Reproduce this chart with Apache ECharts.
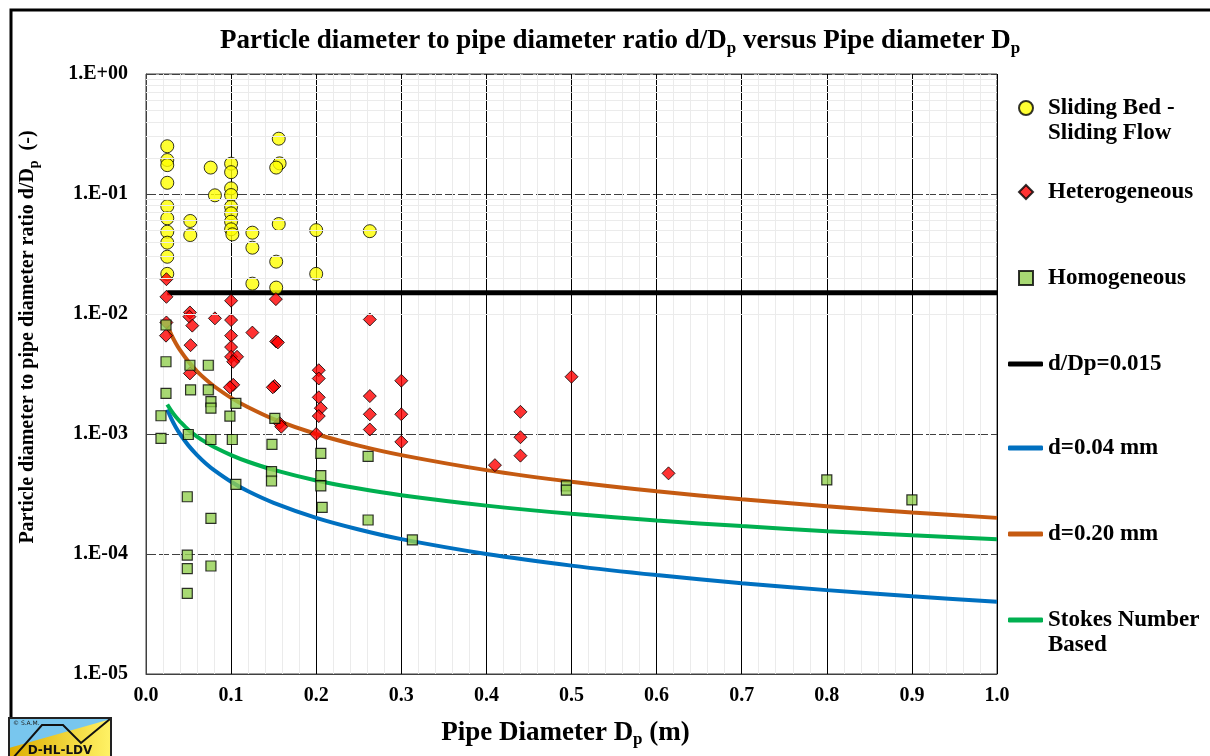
<!DOCTYPE html>
<html>
<head>
<meta charset="utf-8">
<script src="https://cdn.jsdelivr.net/npm/echarts@6/dist/echarts.min.js"></script>
<style>
  html, body { margin: 0; padding: 0; background: #fff; }
  #chart { width: 1210px; height: 756px; }
</style>
</head>
<body>
<div id="chart"></div>
<script>
// scatter data [Dp (m), d/Dp (-)]
const slidingBed = [
    [0.025, 0.25], [0.025, 0.192], [0.025, 0.174], [0.025, 0.124], [0.025, 0.079],
    [0.025, 0.0627], [0.025, 0.0485], [0.025, 0.0393], [0.025, 0.030], [0.025, 0.0216],
    [0.052, 0.0596], [0.052, 0.0455], [0.076, 0.166], [0.081, 0.0975],
    [0.1, 0.179], [0.1, 0.152], [0.1, 0.1115], [0.1, 0.098], [0.1, 0.0784],
    [0.1, 0.069], [0.1, 0.0588], [0.1, 0.0508], [0.1015, 0.0461],
    [0.125, 0.0476], [0.125, 0.0357], [0.125, 0.0179],
    [0.156, 0.289], [0.157, 0.180], [0.153, 0.166], [0.156, 0.0562], [0.153, 0.0273], [0.153, 0.0166],
    [0.2, 0.050], [0.2, 0.0216], [0.263, 0.049]
];
const heterogeneous = [
    [0.024, 0.0195], [0.024, 0.0139], [0.1, 0.0129], [0.1526, 0.0133],
    [0.0516, 0.0103], [0.051, 0.0095], [0.0544, 0.008], [0.081, 0.0092], [0.1, 0.0089], [0.263, 0.009],
    [0.024, 0.0085], [0.0235, 0.0066], [0.125, 0.007], [0.1, 0.0066], [0.0524, 0.0055], [0.1, 0.0053],
    [0.153, 0.0059], [0.155, 0.0058], [0.1, 0.0044], [0.107, 0.0044], [0.1025, 0.004], [0.0516, 0.0032],
    [0.203, 0.0034], [0.203, 0.0029], [0.1025, 0.00257], [0.0986, 0.00245], [0.151, 0.00251], [0.149, 0.00245],
    [0.203, 0.00202], [0.2054, 0.00164], [0.203, 0.00141], [0.263, 0.00207], [0.263, 0.00146], [0.263, 0.00109],
    [0.3, 0.00278], [0.3, 0.00146], [0.3, 0.00086], [0.157, 0.00123], [0.159, 0.00115], [0.2, 0.001],
    [0.41, 0.00055], [0.44, 0.00153], [0.44, 0.00094], [0.44, 0.00066], [0.5, 0.003], [0.614, 0.00047]
];
const homogeneous = [
    [0.0235, 0.0081], [0.0235, 0.004], [0.0516, 0.00374], [0.0732, 0.00374], [0.0235, 0.00218],
    [0.0524, 0.00233], [0.0732, 0.00233], [0.0763, 0.00186], [0.0763, 0.00164], [0.1056, 0.0018],
    [0.0176, 0.00142], [0.0986, 0.00141], [0.1514, 0.00135], [0.0176, 0.00092], [0.0497, 0.00099],
    [0.0763, 0.0009], [0.1014, 0.0009], [0.148, 0.00082], [0.2054, 0.00069], [0.261, 0.00065],
    [0.1475, 0.000486], [0.1475, 0.000406], [0.2054, 0.00045], [0.2054, 0.00037], [0.1056, 0.00038],
    [0.0485, 0.0003], [0.207, 0.000245], [0.0763, 0.000198], [0.261, 0.000192], [0.0485, 0.000098],
    [0.0485, 0.0000755], [0.0763, 0.0000794], [0.0485, 0.000047], [0.313, 0.000131],
    [0.494, 0.00037], [0.494, 0.00034], [0.8, 0.000414], [0.9, 0.000282]
];

// curves
const curveDp = [0.025, 0.03, 0.035, 0.04, 0.05, 0.06, 0.07, 0.08, 0.1, 0.12, 0.15, 0.2,
    0.25, 0.3, 0.4, 0.5, 0.6, 0.7, 0.8, 0.9, 1.0];
const d004 = [0.0016, 0.00133, 0.00114, 0.001, 0.0008, 0.000667, 0.000571, 0.0005, 0.0004, 0.000333,
    0.000267, 0.0002, 0.00016, 0.000133, 0.0001, 0.00008, 0.0000667, 0.0000571, 0.00005, 0.0000444, 0.00004];
const d020 = [0.008, 0.00667, 0.00571, 0.005, 0.004, 0.00333, 0.00286, 0.0025, 0.002, 0.00167,
    0.00133, 0.001, 0.0008, 0.000667, 0.0005, 0.0004, 0.000333, 0.000286, 0.00025, 0.000222, 0.0002];
const stokes = [0.00176, 0.00155, 0.00139, 0.00127, 0.00108, 0.000953, 0.000855, 0.000779, 0.000667, 0.000587,
    0.000502, 0.00041, 0.000351, 0.000309, 0.000253, 0.000216, 0.00019, 0.000171, 0.000155, 0.000143, 0.000133];
const limitDp = [0.025, 1.0];
const limitRatio = [0.015, 0.015];

const names = ['Sliding Bed - Sliding Flow', 'Heterogeneous', 'Homogeneous',
    'd/Dp=0.015', 'd=0.04 mm', 'd=0.20 mm', 'Stokes Number Based'];
const legendLines = {
    'Sliding Bed - Sliding Flow': ['Sliding Bed -', 'Sliding Flow'],
    'Stokes Number Based': ['Stokes Number', 'Based']
};

const FONT = '"Liberation Serif", "Times New Roman", serif';
const legendText = { fontFamily: FONT, fontWeight: 'bold', fontSize: 23, color: '#000', lineHeight: 25 };

function pairs(xs, ys) {
    return xs.map(function (x, i) { return [x, ys[i]]; });
}

// light log grid lines at 2..9 of each decade
const minorLog = [];
for (let e = -5; e < 0; e++) {
    for (let m = 2; m <= 9; m++) {
        minorLog.push({ yAxis: m * Math.pow(10, e) });
    }
}

// one legend block per entry, placed like the Excel legend
function legendAt(name, iconY, isLine, icon) {
    const two = legendLines[name];
    const spacer = isLine ? '' : '{s|}';
    return {
        data: [{ name: name, icon: icon }],
        left: isLine ? 1008 : 1018,
        top: two ? iconY - 37.5 : iconY - 12.5,
        padding: 0,
        itemWidth: isLine ? 35 : 14,
        itemHeight: isLine ? 5 : 14,
        selectedMode: false,
        formatter: function (n) {
            if (two) return spacer + ' \n' + spacer + two[0] + '\n' + spacer + two[1];
            return spacer + n;
        },
        textStyle: Object.assign({ rich: { s: { width: 10 } } }, legendText)
    };
}

const chart = echarts.init(document.getElementById('chart'));

chart.setOption({
    animation: false,
    backgroundColor: '#fff',
    title: {
        text: 'Particle diameter to pipe diameter ratio d/D{p|p} versus Pipe diameter D{p|p}',
        left: 220,
        top: 26,
        padding: 0,
        textStyle: {
            fontFamily: FONT, fontWeight: 'bold', fontSize: 27, color: '#000',
            rich: {
                p: { fontFamily: FONT, fontWeight: 'bold', fontSize: 17, color: '#000', padding: [14, 0, 0, 0] }
            }
        }
    },
    legend: [
        legendAt(names[0], 108, false, 'circle'),
        legendAt(names[1], 192, false, 'diamond'),
        legendAt(names[2], 278, false, 'rect'),
        legendAt(names[3], 364, true, 'roundRect'),
        legendAt(names[4], 448, true, 'roundRect'),
        legendAt(names[5], 534, true, 'roundRect'),
        legendAt(names[6], 620, true, 'roundRect')
    ],
    grid: {
        left: 146, right: 213, top: 74, bottom: 82,
        show: true, borderColor: '#404040', borderWidth: 1
    },
    xAxis: {
        type: 'value',
        min: 0, max: 1, interval: 0.1,
        name: 'Pipe Diameter D{p|p} (m)',
        nameLocation: 'middle',
        nameGap: 44,
        nameTextStyle: {
            fontFamily: FONT, fontWeight: 'bold', fontSize: 27, color: '#000',
            padding: [0, 12, 0, 0],
            rich: { p: { fontFamily: FONT, fontWeight: 'bold', fontSize: 17, color: '#000', padding: [13, 0, 0, 0] } }
        },
        axisLine: { lineStyle: { color: '#404040' } },
        axisTick: { show: false },
        minorTick: { show: true, splitNumber: 5, length: 0 },
        axisLabel: {
            fontFamily: FONT, fontWeight: 'bold', fontSize: 20, color: '#000', margin: 12,
            formatter: function (v) { return v.toFixed(1); }
        },
        splitLine: { show: true, lineStyle: { color: '#000', width: 1 } },
        minorSplitLine: { show: true, lineStyle: { color: '#ebebeb', width: 1 } }
    },
    yAxis: {
        type: 'log',
        logBase: 10,
        min: 1e-5, max: 1,
        axisLine: { show: true, lineStyle: { color: '#404040' } },
        axisTick: { show: false },
        axisLabel: {
            fontFamily: FONT, fontWeight: 'bold', fontSize: 20, color: '#000', margin: 18,
            formatter: function (v) {
                const e = Math.round(Math.log10(v));
                const a = Math.abs(e);
                return '1.E' + (e < 0 ? '-' : '+') + (a < 10 ? '0' : '') + a;
            }
        },
        splitLine: { show: true, lineStyle: { color: '#404040', width: 1, type: [10, 3] } }
    },
    graphic: [
        {
            type: 'rect', z: -10, silent: true,
            shape: { x: 11, y: 10, width: 1260, height: 800 },
            style: { fill: 'none', stroke: '#000', lineWidth: 3 }
        },
        {
            type: 'text', silent: true,
            x: 28, y: 337, rotation: Math.PI / 2,
            style: {
                text: 'Particle diameter to pipe diameter ratio d/D{p|p}  (-)',
                fontFamily: FONT, fontWeight: 'bold', fontSize: 20, fill: '#000',
                align: 'center', verticalAlign: 'middle',
                rich: { p: { fontFamily: FONT, fontWeight: 'bold', fontSize: 14, fill: '#000', padding: [12, 0, 0, 0] } }
            }
        },
        {
            type: 'group', x: 9, y: 718, z: 100, silent: true,
            children: [
                {
                    type: 'rect', shape: { x: 0, y: 0, width: 102, height: 40 },
                    style: {
                        fill: new echarts.graphic.LinearGradient(0, 0, 1, 0, [
                            { offset: 0, color: '#DDAE00' }, { offset: 1, color: '#FFF266' }
                        ])
                    }
                },
                {
                    type: 'polygon', shape: { points: [[0, 0], [102, 0], [102, 1], [0, 30]] },
                    style: { fill: '#78C6EE' }
                },
                {
                    type: 'polyline', shape: { points: [[4, 40], [33, 7], [54, 7], [72, 25], [101, 1]] },
                    style: { stroke: '#111', lineWidth: 2, fill: 'none' }
                },
                {
                    type: 'text', x: 4, y: 2,
                    style: { text: '© S.A.M.', fontSize: 6, fontFamily: 'DejaVu Sans', fill: '#222' }
                },
                {
                    type: 'text', x: 51, y: 27,
                    style: { text: 'D-HL-LDV', fontSize: 12, fontWeight: 'bold', fontFamily: 'DejaVu Sans', fill: '#111', align: 'center' }
                },
                {
                    type: 'rect', shape: { x: 0, y: 0, width: 102, height: 40 },
                    style: { fill: 'none', stroke: '#222', lineWidth: 2 }
                }
            ]
        }
    ],
    series: [
        {
            name: 'grid-minor',
            type: 'line',
            data: [],
            z: -1,
            silent: true,
            markLine: {
                silent: true,
                symbol: ['none', 'none'],
                label: { show: false },
                lineStyle: { color: '#ebebeb', width: 1, type: 'solid' },
                data: minorLog
            }
        },
        {
            name: names[3], type: 'line', z: 2,
            data: pairs(limitDp, limitRatio),
            showSymbol: false, symbol: 'none',
            lineStyle: { color: '#000', width: 5 },
            itemStyle: { color: '#000' }
        },
        {
            name: names[4], type: 'line', z: 2,
            data: pairs(curveDp, d004),
            smooth: 0.3, showSymbol: false, symbol: 'none',
            lineStyle: { color: '#0070C0', width: 4 },
            itemStyle: { color: '#0070C0' }
        },
        {
            name: names[5], type: 'line', z: 2,
            data: pairs(curveDp, d020),
            smooth: 0.3, showSymbol: false, symbol: 'none',
            lineStyle: { color: '#C55A11', width: 4 },
            itemStyle: { color: '#C55A11' }
        },
        {
            name: names[6], type: 'line', z: 2,
            data: pairs(curveDp, stokes),
            smooth: 0.3, showSymbol: false, symbol: 'none',
            lineStyle: { color: '#00B050', width: 4 },
            itemStyle: { color: '#00B050' }
        },
        {
            name: names[0], type: 'scatter', z: 3,
            data: slidingBed,
            symbol: 'circle', symbolSize: 13,
            itemStyle: { color: '#FFFF00', borderColor: '#000', borderWidth: 1 }
        },
        {
            name: names[1], type: 'scatter', z: 4,
            data: heterogeneous,
            symbol: 'diamond', symbolSize: 13,
            itemStyle: { color: '#FF0000', borderColor: '#000', borderWidth: 1 }
        },
        {
            name: names[2], type: 'scatter', z: 5,
            data: homogeneous,
            symbol: 'rect', symbolSize: 10,
            itemStyle: { color: '#92D050', borderColor: '#000', borderWidth: 1.2 }
        }
    ]
});
</script>
</body>
</html>
